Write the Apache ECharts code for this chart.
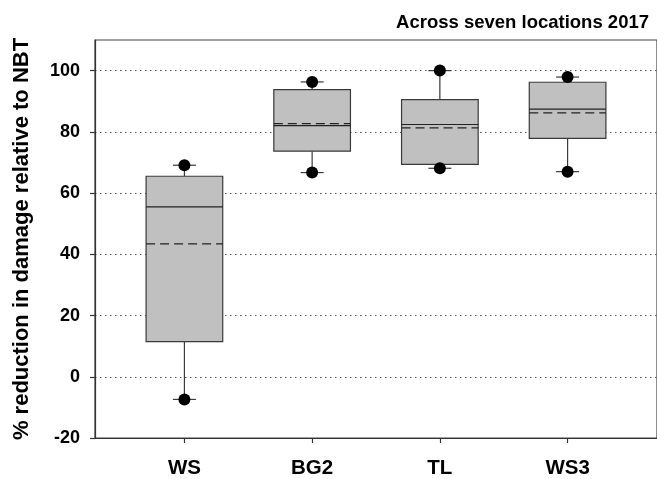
<!DOCTYPE html>
<html>
<head>
<meta charset="utf-8">
<script src="https://cdn.jsdelivr.net/npm/echarts@6/dist/echarts.min.js"></script>
<style>html,body{margin:0;padding:0;background:#fff}#c{width:657px;height:479px}</style>
</head>
<body>
<div id="c"></div>
<script>
const categories = ['WS', 'BG2', 'TL', 'WS3'];
const minVals = [-7.4, 66.7, 68.1, 67.0];
const q1Vals = [11.5, 73.7, 69.4, 77.9];
const medianVals = [55.5, 82.0, 82.4, 87.4];
const meanVals = [43.4, 82.7, 81.3, 86.2];
const q3Vals = [65.5, 93.8, 90.5, 96.2];
const maxVals = [69.1, 96.3, 100.0, 97.9];
const yTicks = [-20, 0, 20, 40, 60, 80, 100];
const titleText = 'Across seven locations 2017';
const yName = '% reduction in damage relative to NBT';

const FONT = '"Liberation Sans", Arial, sans-serif';
const idx = categories.map((c, i) => i);

const boxData = idx.map(i => [i, minVals[i], q1Vals[i], medianVals[i], meanVals[i], q3Vals[i], maxVals[i]]);
const dotData = [];
idx.forEach(i => { dotData.push([i, minVals[i]]); dotData.push([i, maxVals[i]]); });

function renderBox(params, api) {
  const x = api.value(0);
  const pMin = api.coord([x, api.value(1)]);
  const pQ1 = api.coord([x, api.value(2)]);
  const pMed = api.coord([x, api.value(3)]);
  const pMean = api.coord([x, api.value(4)]);
  const pQ3 = api.coord([x, api.value(5)]);
  const pMax = api.coord([x, api.value(6)]);
  const bw = api.size([0.6, 0])[0];
  const cw = api.size([0.18, 0])[0];
  const cx = pQ1[0];
  const stroke = '#3a3a3a';
  return {
    type: 'group',
    children: [
      { type: 'line', shape: { x1: cx, y1: pQ3[1], x2: cx, y2: pMax[1] }, style: { stroke: stroke, lineWidth: 1.2 } },
      { type: 'line', shape: { x1: cx, y1: pQ1[1], x2: cx, y2: pMin[1] }, style: { stroke: stroke, lineWidth: 1.2 } },
      { type: 'line', shape: { x1: cx - cw / 2, y1: pMax[1], x2: cx + cw / 2, y2: pMax[1] }, style: { stroke: stroke, lineWidth: 1.2 } },
      { type: 'line', shape: { x1: cx - cw / 2, y1: pMin[1], x2: cx + cw / 2, y2: pMin[1] }, style: { stroke: stroke, lineWidth: 1.2 } },
      { type: 'rect', shape: { x: cx - bw / 2, y: pQ3[1], width: bw, height: pQ1[1] - pQ3[1] }, style: { fill: '#c0c0c0', stroke: stroke, lineWidth: 1.2 } },
      { type: 'line', shape: { x1: cx - bw / 2, y1: pMed[1], x2: cx + bw / 2, y2: pMed[1] }, style: { stroke: '#222', lineWidth: 1.2 } },
      { type: 'line', shape: { x1: cx - bw / 2, y1: pMean[1], x2: cx + bw / 2, y2: pMean[1] }, style: { stroke: '#222', lineWidth: 1.4, lineDash: [9, 5] } }
    ]
  };
}

const chart = echarts.init(document.getElementById('c'), null, { renderer: 'canvas' });
chart.setOption({
  animation: false,
  backgroundColor: '#fff',
  title: {
    text: titleText,
    right: 3,
    top: 8,
    textStyle: { fontFamily: FONT, fontWeight: 'bold', fontSize: 18.5, color: '#000' }
  },
  grid: {
    left: 95, top: 40, bottom: 40, right: -8,
    show: true, borderColor: '#444', borderWidth: 1.2, backgroundColor: 'transparent'
  },
  xAxis: {
    type: 'value',
    min: -0.7,
    max: 3.7,
    axisLine: { show: true, onZero: false, lineStyle: { color: '#333', width: 1.2 } },
    axisTick: { show: true, customValues: idx, length: 5, lineStyle: { color: '#333', width: 1.2 } },
    axisLabel: {
      customValues: idx,
      formatter: v => categories[Math.round(v)] || '',
      fontFamily: FONT, fontWeight: 'bold', fontSize: 20.5, color: '#000', margin: 20
    },
    splitLine: { show: false }
  },
  yAxis: {
    type: 'value',
    min: -20,
    max: 110,
    interval: 20,
    name: yName,
    nameLocation: 'middle',
    nameGap: 62,
    nameTextStyle: { fontFamily: FONT, fontWeight: 'bold', fontSize: 22, color: '#000' },
    axisLine: { show: true, onZero: false, lineStyle: { color: '#333', width: 1.2 } },
    axisTick: { show: true, customValues: yTicks, length: 5, lineStyle: { color: '#333', width: 1.2 } },
    axisLabel: { customValues: yTicks, fontFamily: FONT, fontWeight: 'bold', fontSize: 18, color: '#000', margin: 15 },
    splitLine: { show: true, lineStyle: { color: '#555', type: [1.5, 3.5], width: 1 } }
  },
  series: [
    {
      type: 'custom',
      renderItem: renderBox,
      data: boxData,
      encode: { x: 0, y: [1, 2, 3, 4, 5, 6] },
      z: 2
    },
    {
      type: 'scatter',
      data: dotData,
      symbol: 'circle',
      symbolSize: 12,
      itemStyle: { color: '#000', opacity: 1 },
      z: 3
    }
  ]
});
</script>
</body>
</html>
